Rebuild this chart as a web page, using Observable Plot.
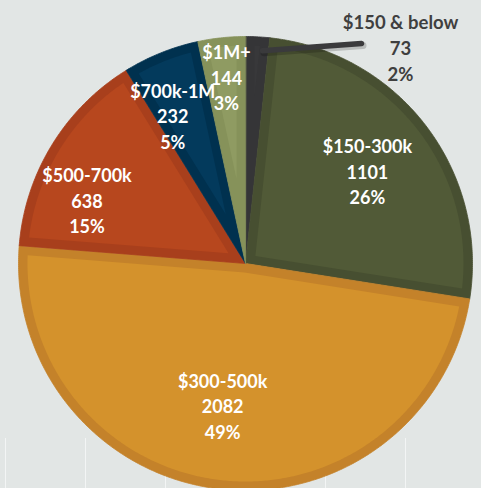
<!DOCTYPE html>
<html><head><meta charset="utf-8">
<script src="https://cdn.jsdelivr.net/npm/d3@7"></script>
<script src="https://cdn.jsdelivr.net/npm/@observablehq/plot@0.6"></script>
<style>
html,body{margin:0;padding:0;background:#e2e6e5;overflow:hidden;}
#chart svg{display:block;}
</style></head><body><div id="chart"></div>
<script>
// ---- data ----
const categories = ["$150 & below", "$150-300k", "$300-500k", "$500-700k", "$700k-1M", "$1M+"];
const counts = [73, 1101, 2082, 638, 232, 144];
const percents = ["2%", "26%", "49%", "15%", "5%", "3%"];
const gridTicks = [-240, -160, -80, 0, 80, 160, 240];

// ---- styles / layout ----
const fillColors = ["#38383a", "#515a37", "#d4922c", "#b7471e", "#033a5c", "#8f9b62"];
const rimColors  = ["#353537", "#474f31", "#c4822a", "#a83f1c", "#00314f", "#86925a"];
// label placement: [radius factor, angle shift in degrees]; null = outside label
const labelPlace = [null, [0.67, 0.7], [0.64, 2.3], [0.75, -10], [0.72, -4.5], [0.82, 0.2]];
const W = 481, H = 488, R = 227, RIM = 9;

const arcs = d3.pie().sort(null).value(d => d)(counts);
const rad = Math.PI / 180;
const pt = (r, a) => ({x: r * Math.sin(a), y: r * Math.cos(a)});

function arcPoints(r, a0, a1) {
  const n = Math.max(2, Math.ceil((a1 - a0) / (0.5 * rad)));
  return d3.range(n + 1).map(i => pt(r, a0 + (a1 - a0) * i / n));
}
function wedge(a0, a1) {
  return [{x: 0, y: 0}, ...arcPoints(R, a0, a1)];
}
function insetWedge(a0, a1) {
  const half = (a1 - a0) / 2, mid = (a0 + a1) / 2;
  const apex = pt(RIM / Math.sin(half), mid);
  const r = R - RIM, off = Math.asin(RIM / r);
  if (a1 - a0 <= 2 * off) return [];
  return [apex, ...arcPoints(r, a0 + off, a1 - off)];
}

const marks = [];
marks.push(Plot.ruleX(gridTicks, {x: d => d, y1: -175, y2: -230, stroke: "#f3f5f5", strokeWidth: 1}));
arcs.forEach((a, i) => {
  marks.push(Plot.line(wedge(a.startAngle, a.endAngle), {x: "x", y: "y", curve: "linear-closed", fill: rimColors[i], stroke: rimColors[i], strokeWidth: 0.8}));
  const inner = insetWedge(a.startAngle, a.endAngle);
  if (inner.length) marks.push(Plot.line(inner, {x: "x", y: "y", curve: "linear-closed", fill: fillColors[i], stroke: "none"}));
});

// inside labels
const inside = arcs.map((a, i) => {
  if (!labelPlace[i]) return null;
  const [f, s] = labelPlace[i];
  const p = pt(R * f, (a.startAngle + a.endAngle) / 2 + s * rad);
  return {x: p.x, y: p.y, text: `${categories[i]}\n${counts[i]}\n${percents[i]}`};
}).filter(d => d);

// outside label for the smallest slice, with leader line
const a0 = arcs[0];
const startPt = pt(R * 0.94, (a0.startAngle + a0.endAngle) / 2 + 1.5 * rad);
const outLabel = {x: 155, y: 217, text: `${categories[0]}\n${counts[0]}\n${percents[0]}`};
const endPt = {x: outLabel.x - 39, y: outLabel.y + 3};

marks.push(Plot.line([{x: startPt.x + 1.5, y: startPt.y - 2}, {x: endPt.x + 1.5, y: endPt.y - 2}], {x: "x", y: "y", stroke: "#000", strokeOpacity: 0.18, strokeWidth: 7}));
marks.push(Plot.line([startPt, endPt], {x: "x", y: "y", stroke: "#3a3a3c", strokeWidth: 5.5}));

marks.push(Plot.text(inside, {x: "x", y: "y", dy: -2, text: "text", fill: "white", fontSize: 18, fontWeight: "bold", lineHeight: 1.42, lineAnchor: "middle", fontFamily: "Lato"}));
marks.push(Plot.text([outLabel], {x: "x", y: "y", text: "text", fill: "#3f3f3f", fontSize: 18.5, fontWeight: "bold", lineHeight: 1.42, lineAnchor: "middle", fontFamily: "Lato"}));

const chart = Plot.plot({
  width: W, height: H,
  margin: 0,
  x: {domain: [-245, 236], range: [0, W], axis: null},
  y: {domain: [263, -225], range: [0, H], axis: null},
  style: {background: "#e2e6e5", fontFamily: "Lato", overflow: "hidden"},
  marks
});
document.getElementById("chart").append(chart);
</script></body></html>
